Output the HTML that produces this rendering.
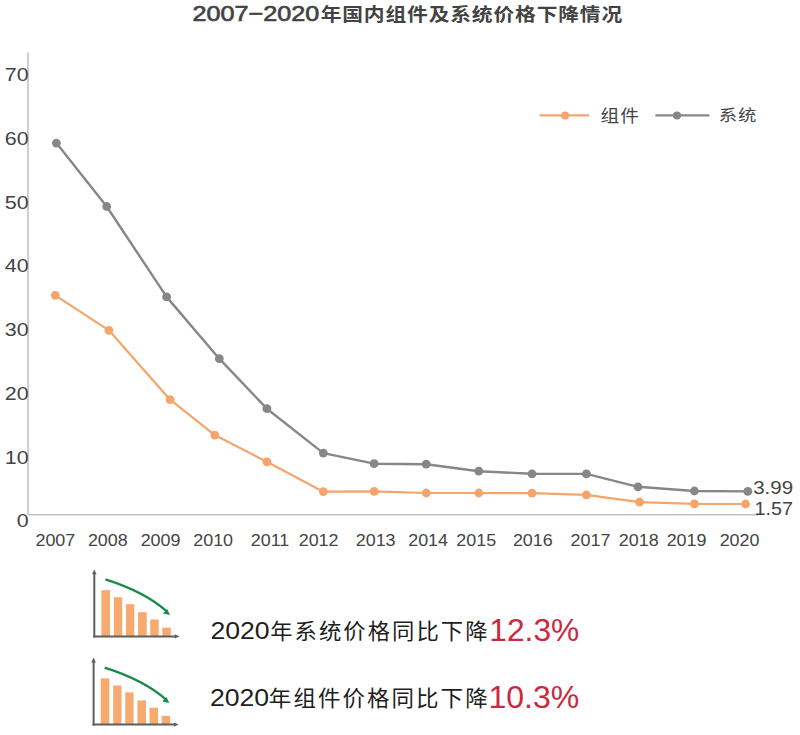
<!DOCTYPE html>
<html><head><meta charset="utf-8"><title>2007-2020年国内组件及系统价格下降情况</title>
<style>html,body{margin:0;padding:0;background:#fff;width:800px;height:735px;overflow:hidden}svg{display:block}</style>
</head><body><svg width="800" height="735" viewBox="0 0 800 735"><line x1="28" y1="52.6" x2="28" y2="514" stroke="#c3c3c3" stroke-width="1.6"/><line x1="27.2" y1="514.7" x2="758" y2="514.7" stroke="#c3c3c3" stroke-width="1.6"/><polyline points="56.4,143.1 106.7,206.5 166.6,296.9 219.3,358.7 266.9,408.7 323.3,453.1 374.1,463.7 426.2,464.2 478.8,471.2 532.0,473.8 586.4,473.9 638.0,486.8 694.4,491.0 747.8,491.4" fill="none" stroke="#878787" stroke-width="2.4" stroke-linejoin="round"/><polyline points="55.3,295.3 108.9,330.3 170.1,399.7 214.8,435.1 266.9,461.8 323.3,491.7 374.1,491.4 426.2,493.0 478.8,493.0 532.0,493.2 586.4,494.9 639.5,502.1 694.4,503.9 745.6,504.0" fill="none" stroke="#f5a56c" stroke-width="2.2" stroke-linejoin="round"/><circle cx="56.4" cy="143.1" r="4.4" fill="#878787"/><circle cx="106.7" cy="206.5" r="4.4" fill="#878787"/><circle cx="166.6" cy="296.9" r="4.4" fill="#878787"/><circle cx="219.3" cy="358.7" r="4.4" fill="#878787"/><circle cx="266.9" cy="408.7" r="4.4" fill="#878787"/><circle cx="323.3" cy="453.1" r="4.4" fill="#878787"/><circle cx="374.1" cy="463.7" r="4.4" fill="#878787"/><circle cx="426.2" cy="464.2" r="4.4" fill="#878787"/><circle cx="478.8" cy="471.2" r="4.4" fill="#878787"/><circle cx="532.0" cy="473.8" r="4.4" fill="#878787"/><circle cx="586.4" cy="473.9" r="4.4" fill="#878787"/><circle cx="638.0" cy="486.8" r="4.4" fill="#878787"/><circle cx="694.4" cy="491.0" r="4.4" fill="#878787"/><circle cx="747.8" cy="491.4" r="4.4" fill="#878787"/><circle cx="55.3" cy="295.3" r="4.4" fill="#f5a56c"/><circle cx="108.9" cy="330.3" r="4.4" fill="#f5a56c"/><circle cx="170.1" cy="399.7" r="4.4" fill="#f5a56c"/><circle cx="214.8" cy="435.1" r="4.4" fill="#f5a56c"/><circle cx="266.9" cy="461.8" r="4.4" fill="#f5a56c"/><circle cx="323.3" cy="491.7" r="4.4" fill="#f5a56c"/><circle cx="374.1" cy="491.4" r="4.4" fill="#f5a56c"/><circle cx="426.2" cy="493.0" r="4.4" fill="#f5a56c"/><circle cx="478.8" cy="493.0" r="4.4" fill="#f5a56c"/><circle cx="532.0" cy="493.2" r="4.4" fill="#f5a56c"/><circle cx="586.4" cy="494.9" r="4.4" fill="#f5a56c"/><circle cx="639.5" cy="502.1" r="4.4" fill="#f5a56c"/><circle cx="694.4" cy="503.9" r="4.4" fill="#f5a56c"/><circle cx="745.6" cy="504.0" r="4.4" fill="#f5a56c"/><line x1="539.6" y1="115.4" x2="589.1" y2="115.4" stroke="#f5a56c" stroke-width="2.2"/><circle cx="565.1" cy="115.4" r="4" fill="#f5a56c"/><line x1="655.4" y1="115.4" x2="709.4" y2="115.4" stroke="#878787" stroke-width="2.2"/><circle cx="677" cy="115.4" r="4" fill="#878787"/><g transform="translate(0,0)"><rect x="101.4" y="590.2" width="8.6" height="46.0" fill="#f7aa70"/><rect x="113.9" y="597.3" width="8.3" height="38.9" fill="#f7aa70"/><rect x="125.9" y="604.2" width="8.4" height="32.0" fill="#f7aa70"/><rect x="138.1" y="612.2" width="8.6" height="24.0" fill="#f7aa70"/><rect x="150.2" y="619.5" width="8.5" height="16.7" fill="#f7aa70"/><rect x="162.3" y="627.6" width="8.5" height="8.6" fill="#f7aa70"/><path d="M94.3 637.4 V573.5" stroke="#5e5e5e" stroke-width="2" fill="none"/><path d="M94.3 569.4 l-2.3 4.8 h4.6 z" fill="#5e5e5e"/><path d="M93.3 636.4 H175.5" stroke="#5e5e5e" stroke-width="2" fill="none"/><path d="M179.4 636.4 l-4.8 -2.2 v4.4 z" fill="#5e5e5e"/><path d="M105.4 579.4 Q145 592 166.5 611.2" stroke="#178a4c" stroke-width="2.3" fill="none"/><path d="M170.0 614.9 l-7.0 -1.5 l4.2 -4.5 z" fill="#178a4c"/></g><g transform="translate(-0.7,88.2)"><rect x="101.4" y="590.2" width="8.6" height="46.0" fill="#f7aa70"/><rect x="113.9" y="597.3" width="8.3" height="38.9" fill="#f7aa70"/><rect x="125.9" y="604.2" width="8.4" height="32.0" fill="#f7aa70"/><rect x="138.1" y="612.2" width="8.6" height="24.0" fill="#f7aa70"/><rect x="150.2" y="619.5" width="8.5" height="16.7" fill="#f7aa70"/><rect x="162.3" y="627.6" width="8.5" height="8.6" fill="#f7aa70"/><path d="M94.3 637.4 V573.5" stroke="#5e5e5e" stroke-width="2" fill="none"/><path d="M94.3 569.4 l-2.3 4.8 h4.6 z" fill="#5e5e5e"/><path d="M93.3 636.4 H175.5" stroke="#5e5e5e" stroke-width="2" fill="none"/><path d="M179.4 636.4 l-4.8 -2.2 v4.4 z" fill="#5e5e5e"/><path d="M105.4 579.4 Q145 592 166.5 611.2" stroke="#178a4c" stroke-width="2.3" fill="none"/><path d="M170.0 614.9 l-7.0 -1.5 l4.2 -4.5 z" fill="#178a4c"/></g><g font-family='"Liberation Sans", "Noto Sans CJK SC", sans-serif'><text transform="matrix(0.25201 0 0 0.21370 192.49 21.37)" font-size="100" stroke="#434343" stroke-width="3" fill="#434343">2007−2020</text><text transform="matrix(0.20781 0 0 0.18125 320.67 21.19)" font-size="100" font-weight="bold" letter-spacing="4" fill="#434343">年国内组件及系统价格下降情况</text><text transform="matrix(0.21471 0 0 0.18873 4.83 81.16)" font-size="100" fill="#444444">70</text><text transform="matrix(0.21471 0 0 0.18873 4.83 144.92)" font-size="100" fill="#444444">60</text><text transform="matrix(0.21471 0 0 0.18873 4.83 208.68)" font-size="100" fill="#444444">50</text><text transform="matrix(0.21471 0 0 0.18873 4.83 272.44)" font-size="100" fill="#444444">40</text><text transform="matrix(0.21471 0 0 0.18873 4.83 336.20)" font-size="100" fill="#444444">30</text><text transform="matrix(0.21471 0 0 0.18873 4.83 399.96)" font-size="100" fill="#444444">20</text><text transform="matrix(0.21471 0 0 0.18873 4.83 463.72)" font-size="100" fill="#444444">10</text><text transform="matrix(0.21471 0 0 0.18873 16.64 527.48)" font-size="100" fill="#444444">0</text><text transform="matrix(0.17925 0 0 0.16408 35.43 546.24)" font-size="100" fill="#444444">2007</text><text transform="matrix(0.17925 0 0 0.16408 87.89 546.24)" font-size="100" fill="#444444">2008</text><text transform="matrix(0.17925 0 0 0.16408 140.64 546.24)" font-size="100" fill="#444444">2009</text><text transform="matrix(0.17925 0 0 0.16408 193.21 546.24)" font-size="100" fill="#444444">2010</text><text transform="matrix(0.17925 0 0 0.16408 250.78 546.24)" font-size="100" fill="#444444">2011</text><text transform="matrix(0.17925 0 0 0.16408 298.70 546.24)" font-size="100" fill="#444444">2012</text><text transform="matrix(0.17925 0 0 0.16408 355.71 546.24)" font-size="100" fill="#444444">2013</text><text transform="matrix(0.17925 0 0 0.16408 408.17 546.24)" font-size="100" fill="#444444">2014</text><text transform="matrix(0.17925 0 0 0.16408 456.26 546.24)" font-size="100" fill="#444444">2015</text><text transform="matrix(0.17925 0 0 0.16408 512.89 546.24)" font-size="100" fill="#444444">2016</text><text transform="matrix(0.17925 0 0 0.16408 570.50 546.24)" font-size="100" fill="#444444">2017</text><text transform="matrix(0.17925 0 0 0.16408 618.76 546.24)" font-size="100" fill="#444444">2018</text><text transform="matrix(0.17925 0 0 0.16408 666.66 546.24)" font-size="100" fill="#444444">2019</text><text transform="matrix(0.17925 0 0 0.16408 719.66 546.24)" font-size="100" fill="#444444">2020</text><text transform="matrix(0.20538 0 0 0.17887 753.18 494.32)" font-size="100" fill="#444444">3.99</text><text transform="matrix(0.19780 0 0 0.18857 754.42 514.81)" font-size="100" fill="#444444">1.57</text><text transform="matrix(0.18750 0 0 0.17174 600.50 121.53)" font-size="100" letter-spacing="5" fill="#444444">组件</text><text transform="matrix(0.18376 0 0 0.16304 718.81 121.20)" font-size="100" letter-spacing="5" fill="#444444">系统</text><text transform="matrix(0.26643 0 0 0.23944 210.42 639.01)" font-size="100" fill="#1e1e1e">2020</text><text transform="matrix(0.22383 0 0 0.21505 270.13 639.28)" font-size="100" letter-spacing="9" fill="#1e1e1e">年系统价格同比下降</text><text transform="matrix(0.31691 0 0 0.30493 489.36 641.45)" font-size="100" fill="#cc2840">12.3%</text><text transform="matrix(0.26643 0 0 0.24296 209.92 705.76)" font-size="100" fill="#1e1e1e">2020</text><text transform="matrix(0.22508 0 0 0.21989 268.87 706.44)" font-size="100" letter-spacing="9" fill="#1e1e1e">年组件价格同比下降</text><text transform="matrix(0.32022 0 0 0.30775 488.44 708.44)" font-size="100" fill="#cc2840">10.3%</text></g></svg></body></html>
